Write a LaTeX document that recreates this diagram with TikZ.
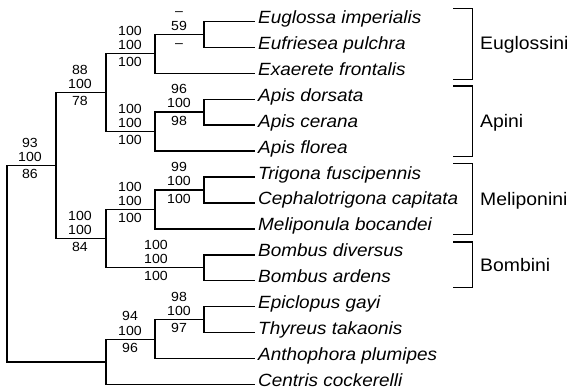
\documentclass[tikz,border=0pt]{standalone}
\usepackage{fontspec}
\setmainfont{Liberation Sans}[FakeStretch=1.07]
\newcommand\supvals[6]{%
  \node[supp] (#1a) at (#2,#3-18.5) {#4};
  \node[supp] (#1b) at (#2,#3-4.2) {#5};
  \node[supp] (#1c) at (#2,#3+13) {#6};}
\begin{document}
\begin{tikzpicture}[x=1pt,y=-1pt,
  branch/.style={line width=1.3pt, line join=miter},
  taxon/.style={anchor=base west, inner sep=0pt, font=\fontsize{17.7}{20}\selectfont\itshape, xshift=3pt, yshift=-2pt},
  supp/.style={anchor=base, inner sep=0pt, font=\fontsize{13.2}{15}\selectfont},
  clade/.style={anchor=base west, inner sep=0pt, font=\fontsize{18.1}{20}\selectfont},
]
\useasboundingbox (0,0) rectangle (572,389);
% leaf tips
\coordinate (t0) at (255,21.3);
\coordinate (t1) at (255,47.25);
\coordinate (t2) at (255,73.2);
\coordinate (t3) at (255,99.15);
\coordinate (t4) at (255,125.1);
\coordinate (t5) at (255,151.05);
\coordinate (t6) at (255,177);
\coordinate (t7) at (255,202.95);
\coordinate (t8) at (255,228.9);
\coordinate (t9) at (255,254.85);
\coordinate (t10) at (255,280.8);
\coordinate (t11) at (255,306.75);
\coordinate (t12) at (255,332.7);
\coordinate (t13) at (255,358.65);
\coordinate (t14) at (255,384.6);
% internal nodes
\coordinate (D) at (204,34.3);
\coordinate (C) at (155,53.75);
\coordinate (F) at (204,112.1);
\coordinate (E) at (155,131.6);
\coordinate (B) at (106,92.7);
\coordinate (I) at (204,190);
\coordinate (H) at (155,209.5);
\coordinate (J) at (204,267.8);
\coordinate (G) at (106,238.6);
\coordinate (A) at (56,165.7);
\coordinate (L) at (204,319.7);
\coordinate (K) at (155,339.2);
\coordinate (M) at (106,361.9);
\coordinate (R) at (7,263.8);
% branches
\draw[branch] (D) |- (t0); \draw[branch] (D) |- (t1);
\draw[branch] (C) |- (D); \draw[branch] (C) |- (t2);
\draw[branch] (F) |- (t3); \draw[branch] (F) |- (t4);
\draw[branch] (E) |- (F); \draw[branch] (E) |- (t5);
\draw[branch] (B) |- (C); \draw[branch] (B) |- (E);
\draw[branch] (I) |- (t6); \draw[branch] (I) |- (t7);
\draw[branch] (H) |- (I); \draw[branch] (H) |- (t8);
\draw[branch] (J) |- (t9); \draw[branch] (J) |- (t10);
\draw[branch] (G) |- (H); \draw[branch] (G) |- (J);
\draw[branch] (A) |- (B); \draw[branch] (A) |- (G);
\draw[branch] (L) |- (t11); \draw[branch] (L) |- (t12);
\draw[branch] (K) |- (L); \draw[branch] (K) |- (t13);
\draw[branch] (M) |- (K); \draw[branch] (M) |- (t14);
\draw[branch] (R) |- (A); \draw[branch] (R) |- (M);
% taxa
\node[taxon] (n0) at (t0) {Euglossa imperialis};
\node[taxon] (n1) at (t1) {Eufriesea pulchra};
\node[taxon] (n2) at (t2) {Exaerete frontalis};
\node[taxon] (n3) at (t3) {Apis dorsata};
\node[taxon] (n4) at (t4) {Apis cerana};
\node[taxon] (n5) at (t5) {Apis florea};
\node[taxon] (n6) at (t6) {Trigona fuscipennis};
\node[taxon] (n7) at (t7) {Cephalotrigona capitata};
\node[taxon] (n8) at (t8) {Meliponula bocandei};
\node[taxon] (n9) at (t9) {Bombus diversus};
\node[taxon] (n10) at (t10) {Bombus ardens};
\node[taxon] (n11) at (t11) {Epiclopus gayi};
\node[taxon] (n12) at (t12) {Thyreus takaonis};
\node[taxon] (n13) at (t13) {Anthophora plumipes};
\node[taxon] (n14) at (t14) {Centris cockerelli};
% support values
\supvals{sA}{30}{165.7}{93}{100}{86}
\supvals{sB}{80}{92.7}{88}{100}{78}
\supvals{sC}{130}{53.75}{100}{100}{100}
\supvals{sD}{179}{34.3}{\textendash}{59}{\textendash}
\supvals{sE}{130}{131.6}{100}{100}{100}
\supvals{sF}{179}{112.1}{96}{100}{98}
\supvals{sG}{80}{238.6}{100}{100}{84}
\supvals{sH}{130}{209.5}{100}{100}{100}
\supvals{sI}{179}{190}{99}{100}{100}
\supvals{sJ}{156}{267.8}{100}{100}{100}
\supvals{sK}{130}{339.2}{94}{100}{96}
\supvals{sL}{179}{319.7}{98}{100}{97}
% clade brackets
\coordinate (b1t) at (453,8.3);  \coordinate (b1b) at (453,79.2);
\coordinate (b2t) at (453,86.1); \coordinate (b2b) at (453,156.5);
\coordinate (b3t) at (453,163.5); \coordinate (b3b) at (453,234.2);
\coordinate (b4t) at (453,242);  \coordinate (b4b) at (453,287.8);
\draw[branch] (b1t) -- ++(19.5,0) -- ([xshift=19.5pt]b1b) -- (b1b);
\draw[branch] (b2t) -- ++(19.5,0) -- ([xshift=19.5pt]b2b) -- (b2b);
\draw[branch] (b3t) -- ++(19.5,0) -- ([xshift=19.5pt]b3b) -- (b3b);
\draw[branch] (b4t) -- ++(19.5,0) -- ([xshift=19.5pt]b4b) -- (b4b);
\node[clade] (c1) at (480,49.9) {Euglossini};
\node[clade] (c2) at (480,127.5) {Apini};
\node[clade] (c3) at (480,205) {Meliponini};
\node[clade] (c4) at (480,271.1) {Bombini};
\end{tikzpicture}
\end{document}
